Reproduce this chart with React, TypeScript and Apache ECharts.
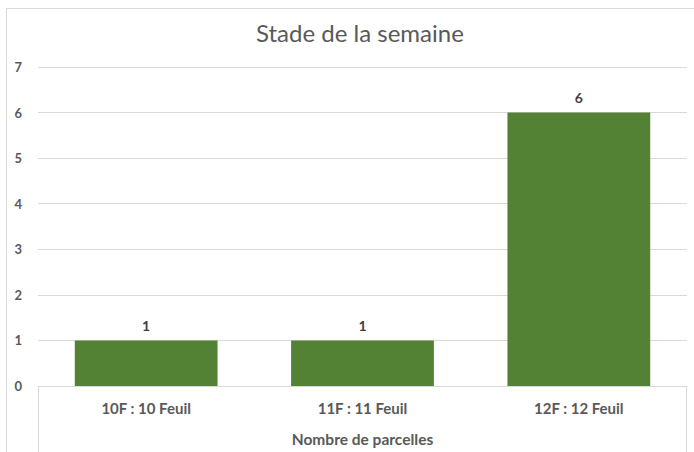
import React, { useEffect, useRef } from "react";
import * as echarts from "echarts";

const categories = ["10F : 10 Feuil", "11F : 11 Feuil", "12F : 12 Feuil"];
const values = [1, 1, 6];
const titleText = "Stade de la semaine";
const xAxisName = "Nombre de parcelles";

const FONT = "Lato, 'Open Sans', sans-serif";

export default function App() {
  const ref = useRef<HTMLDivElement>(null);
  useEffect(() => {
    if (!ref.current) return;
    const chart = echarts.init(ref.current, null, { renderer: "svg" });
    chart.setOption({
      animation: false,
      backgroundColor: "#ffffff",
      title: {
        text: titleText,
        left: 251,
        top: 15,
        textStyle: { fontFamily: FONT, fontSize: 24, fontWeight: "normal", color: "#595959" },
      },
      grid: { left: 38, right: 7, top: 67, bottom: 66 },
      xAxis: {
        type: "category",
        data: categories,
        name: xAxisName,
        nameLocation: "middle",
        nameGap: 45,
        nameTextStyle: { fontFamily: FONT, fontSize: 15.5, fontWeight: "bold", color: "#595959", verticalAlign: "top" },
        axisLine: { show: true, lineStyle: { color: "#d9d9d9" } },
        axisTick: { show: false },
        axisLabel: { fontFamily: FONT, fontSize: 15, fontWeight: "bold", color: "#595959", margin: 14 },
      },
      yAxis: {
        type: "value",
        min: 0,
        max: 7,
        interval: 1,
        axisLine: { show: false },
        axisTick: { show: false },
        axisLabel: { fontFamily: FONT, fontSize: 13, fontWeight: "bold", color: "#595959", margin: 16 },
        splitLine: { lineStyle: { color: "#d9d9d9" } },
      },
      series: [
        {
          type: "bar",
          data: values,
          barWidth: "66%",
          itemStyle: { color: "#548235" },
          label: {
            show: true,
            position: "top",
            distance: 8,
            fontFamily: FONT,
            fontSize: 14,
            fontWeight: "bold",
            color: "#404040",
          },
        },
      ],
      graphic: [
        { type: "line", shape: { x1: 6, y1: 8.5, x2: 694, y2: 8.5 }, style: { stroke: "#d9d9d9", lineWidth: 1 }, silent: true },
        { type: "line", shape: { x1: 6.5, y1: 8, x2: 6.5, y2: 452 }, style: { stroke: "#d9d9d9", lineWidth: 1 }, silent: true },
        { type: "line", shape: { x1: 38.5, y1: 386, x2: 38.5, y2: 452 }, style: { stroke: "#d9d9d9", lineWidth: 1 }, silent: true },
        { type: "line", shape: { x1: 686.5, y1: 386, x2: 686.5, y2: 452 }, style: { stroke: "#d9d9d9", lineWidth: 1 }, silent: true },
      ],
    });
    return () => chart.dispose();
  }, []);
  return (
    <div
      ref={ref}
      style={{ position: "absolute", left: 0, top: 0, width: 694, height: 452 }}
    />
  );
}
